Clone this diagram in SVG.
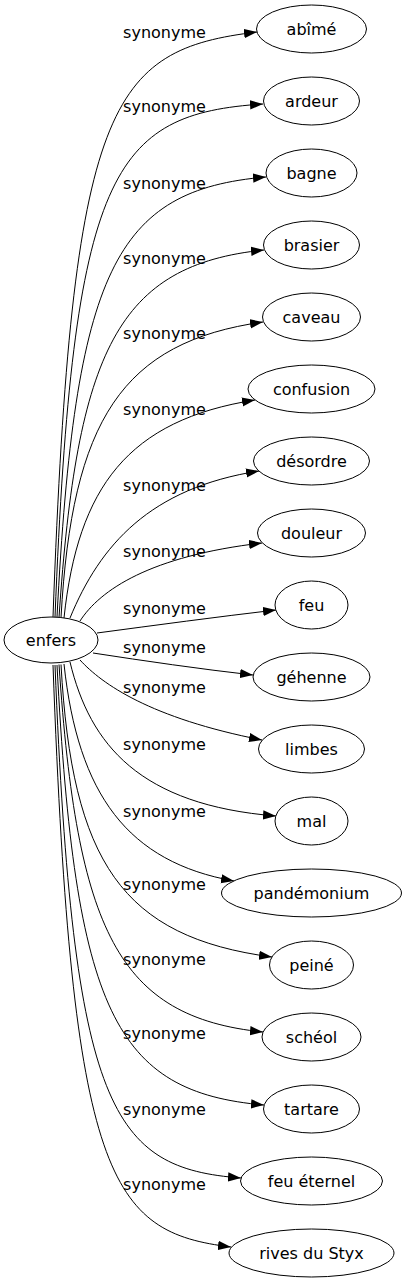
<svg xmlns="http://www.w3.org/2000/svg" width="406" height="1283" viewBox="0 0 406 1283">
<style>
.n ellipse{fill:#fff;stroke:#000;stroke-width:1}
text{font-family:"DejaVu Sans","Liberation Sans",sans-serif;font-size:16px;fill:#000}
.n text{text-anchor:middle}
.e path{fill:none;stroke:#000;stroke-width:1;marker-end:url(#arr)}
.e text{text-anchor:middle}
</style>
<defs>
<marker id="arr" markerUnits="userSpaceOnUse" markerWidth="13" markerHeight="10" refX="13" refY="4.65" orient="auto" viewBox="0 0 13 9.3">
<path d="M0,0 L13,4.65 L0,9.3 Z" fill="#000"/>
</marker>
</defs>
<rect width="406" height="1283" fill="#fff"/>
<g id="connectors">
<g class="e"><path d="M53,617 C72,100 110,50 257,32"/><text x="164.5" y="38">synonyme</text></g>
<g class="e"><path d="M55,617 C73,170 112,114 263,104"/><text x="164.5" y="112">synonyme</text></g>
<g class="e"><path d="M57,617 C75,270 115,190 266,177"/><text x="164.5" y="189">synonyme</text></g>
<g class="e"><path d="M59,617.5 C77,350 118,265 264,250"/><text x="164.5" y="264">synonyme</text></g>
<g class="e"><path d="M61,617.5 C72,420 122,342 263,322"/><text x="164.5" y="339">synonyme</text></g>
<g class="e"><path d="M64,618 C78,487 128,420 255,400"/><text x="164.5" y="415">synonyme</text></g>
<g class="e"><path d="M70,618 C100,545 150,488 259,471"/><text x="164.5" y="491">synonyme</text></g>
<g class="e"><path d="M80,621 C100,590 150,556 262,543"/><text x="164.5" y="557">synonyme</text></g>
<g class="e"><path d="M97,633 C157,625 216,617 276,610"/><text x="164.5" y="614">synonyme</text></g>
<g class="e"><path d="M93,653 C145,661 200,669 253,675"/><text x="164.5" y="653">synonyme</text></g>
<g class="e"><path d="M80,660 C102,684 150,718 262,740"/><text x="164.5" y="693">synonyme</text></g>
<g class="e"><path d="M70,662 C90,745 140,805 276,816"/><text x="164.5" y="750">synonyme</text></g>
<g class="e"><path d="M64,664 C78,795 128,862 234,881"/><text x="164.5" y="817">synonyme</text></g>
<g class="e"><path d="M61,664.5 C72,862 122,937 272,957"/><text x="164.5" y="890">synonyme</text></g>
<g class="e"><path d="M59,664.5 C77,931 118,1017 263,1032"/><text x="164.5" y="965">synonyme</text></g>
<g class="e"><path d="M57,665 C75,1012 115,1092 264,1105"/><text x="164.5" y="1039">synonyme</text></g>
<g class="e"><path d="M55,665 C73,1112 112,1168 241,1178"/><text x="164.5" y="1115">synonyme</text></g>
<g class="e"><path d="M53,665 C72,1182 110,1232 231,1247"/><text x="164.5" y="1190">synonyme</text></g>
</g>
<g id="node-enfers" class="n"><ellipse cx="51" cy="640" rx="47" ry="23"/><text x="51" y="646">enfers</text></g>
<g id="node-abime" class="n"><ellipse cx="311.5" cy="29" rx="55" ry="24"/><text x="311.5" y="35">abîmé</text></g>
<g id="node-ardeur" class="n"><ellipse cx="311.5" cy="101" rx="48" ry="24"/><text x="311.5" y="107">ardeur</text></g>
<g id="node-bagne" class="n"><ellipse cx="311.5" cy="173" rx="45.5" ry="24"/><text x="311.5" y="179">bagne</text></g>
<g id="node-brasier" class="n"><ellipse cx="311.5" cy="245" rx="48" ry="24"/><text x="311.5" y="251">brasier</text></g>
<g id="node-caveau" class="n"><ellipse cx="311.5" cy="317" rx="49" ry="24"/><text x="311.5" y="323">caveau</text></g>
<g id="node-confusion" class="n"><ellipse cx="311.5" cy="389" rx="63.5" ry="24"/><text x="311.5" y="395">confusion</text></g>
<g id="node-desordre" class="n"><ellipse cx="311.5" cy="461" rx="58" ry="24"/><text x="311.5" y="467">désordre</text></g>
<g id="node-douleur" class="n"><ellipse cx="311.5" cy="533" rx="54" ry="24"/><text x="311.5" y="539">douleur</text></g>
<g id="node-feu" class="n"><ellipse cx="311.5" cy="605" rx="36.5" ry="24"/><text x="311.5" y="611">feu</text></g>
<g id="node-gehenne" class="n"><ellipse cx="311.5" cy="677" rx="58.5" ry="24"/><text x="311.5" y="683">géhenne</text></g>
<g id="node-limbes" class="n"><ellipse cx="311.5" cy="749" rx="53" ry="24"/><text x="311.5" y="755">limbes</text></g>
<g id="node-mal" class="n"><ellipse cx="311.5" cy="821" rx="36.5" ry="24"/><text x="311.5" y="827">mal</text></g>
<g id="node-pandemonium" class="n"><ellipse cx="311.5" cy="893" rx="90" ry="24"/><text x="311.5" y="899">pandémonium</text></g>
<g id="node-peine" class="n"><ellipse cx="311.5" cy="965" rx="42" ry="24"/><text x="311.5" y="971">peiné</text></g>
<g id="node-scheol" class="n"><ellipse cx="311.5" cy="1037" rx="49.5" ry="24"/><text x="311.5" y="1043">schéol</text></g>
<g id="node-tartare" class="n"><ellipse cx="311.5" cy="1109" rx="48" ry="24"/><text x="311.5" y="1115">tartare</text></g>
<g id="node-feu-eternel" class="n"><ellipse cx="311.5" cy="1181" rx="71" ry="24"/><text x="311.5" y="1187">feu éternel</text></g>
<g id="node-rives-du-styx" class="n"><ellipse cx="311.5" cy="1253" rx="82.5" ry="24"/><text x="311.5" y="1259">rives du Styx</text></g>
</svg>
